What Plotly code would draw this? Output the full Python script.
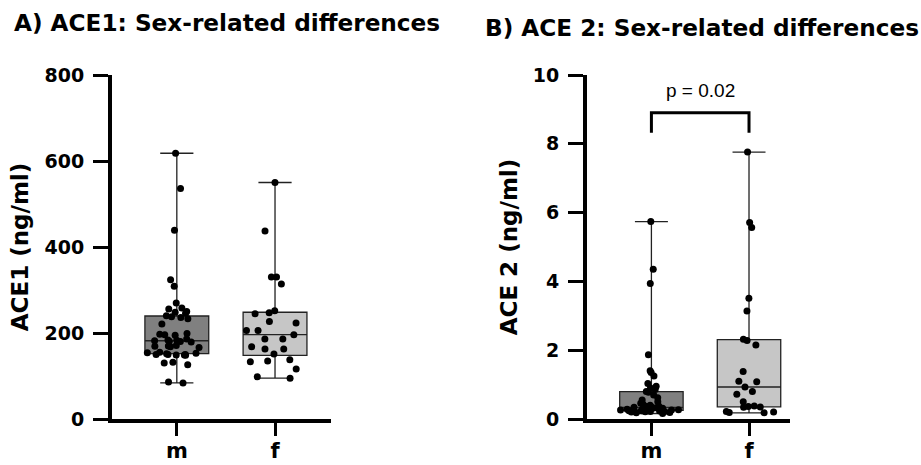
import plotly.graph_objects as go

# ---------------- data ----------------
categories = ["m", "f"]

ace1_m = [618, 536, 439, 324, 309, 270, 258, 256, 250, 248, 246, 233, 236, 238, 240,
          221, 199, 197, 196, 195, 186, 184, 183, 182, 181, 180, 179, 170, 169, 166,
          168, 171, 154, 150, 149, 153, 150, 148, 152, 150, 149, 155, 130, 126, 132,
          86, 84]
ace1_f = [550, 437, 330, 330, 314, 252, 247, 245, 227, 223, 206, 206, 196, 186, 186,
          163, 163, 168, 151, 135, 133, 138, 116, 95, 98]

ace2_m = [5.74, 4.35, 3.94, 1.87, 1.40, 1.35, 1.25, 1.03, 0.95, 0.90, 0.86, 0.80,
          0.78, 0.70, 0.62, 0.55, 0.50, 0.46, 0.42, 0.40, 0.38, 0.36, 0.35, 0.34,
          0.33, 0.32, 0.31, 0.30, 0.29, 0.28, 0.28, 0.27, 0.27, 0.26, 0.26, 0.25,
          0.25, 0.24, 0.24, 0.23, 0.22, 0.22, 0.21, 0.20, 0.19, 0.18, 0.16]
ace2_f = [7.76, 5.71, 5.57, 3.51, 3.14, 2.32, 2.28, 2.15, 1.38, 1.10, 1.08, 0.93,
          0.80, 0.72, 0.50, 0.38, 0.36, 0.35, 0.34, 0.22, 0.20, 0.19, 0.18]

ace1_ticks = [0, 200, 400, 600, 800]
ace2_ticks = [0, 2, 4, 6, 8, 10]

p_label = "p = 0.02"
bracket_low = 8.32
bracket_high = 8.9
p_label_y = 9.55

title_a = "A) ACE1: Sex-related differences"
title_b = "B) ACE 2: Sex-related differences"
ytitle_a = "ACE1 (ng/ml)"
ytitle_b = "ACE 2 (ng/ml)"

# ---------------- style ----------------
W, H = 921, 465
BOLD = dict(family="DejaVu Sans", color="black", weight="bold")
fills = {"m": "#808080", "f": "#c6c6c6"}

fig = go.Figure()


def add_group(vals, cat, xa, ya):
    n = len(vals)
    fig.add_trace(go.Box(
        x=[cat] * n, y=vals, boxpoints=False, fillcolor=fills[cat],
        line=dict(color="#222222", width=1.3), width=0.65, whiskerwidth=0.52,
        xaxis=xa, yaxis=ya, hoverinfo="skip"))
    fig.add_trace(go.Box(
        x=[cat] * n, y=vals, boxpoints="all", jitter=1.0, pointpos=0,
        fillcolor="rgba(0,0,0,0)", line=dict(color="rgba(0,0,0,0)", width=0),
        marker=dict(color="black", size=7), width=0.65,
        xaxis=xa, yaxis=ya, hoverinfo="skip"))


add_group(ace1_m, "m", "x", "y")
add_group(ace1_f, "f", "x", "y")
add_group(ace2_m, "m", "x2", "y2")
add_group(ace2_f, "f", "x2", "y2")

# significance bracket
fig.add_trace(go.Scatter(
    x=["m", "m", "f", "f"], y=[bracket_low, bracket_high, bracket_high, bracket_low],
    mode="lines", line=dict(color="black", width=3), xaxis="x2", yaxis="y2",
    hoverinfo="skip"))

ydom = [(H - 419) / H, (H - 75) / H]

xaxis_common = dict(
    type="category", categoryorder="array", categoryarray=categories,
    showline=True, linewidth=4, linecolor="black", ticks="outside", ticklen=13,
    tickwidth=3, tickcolor="black", tickfont=dict(size=21, **BOLD),
    ticklabelstandoff=-3,
    showgrid=False, zeroline=False, fixedrange=True, automargin=False)
yaxis_common = dict(
    showline=True, linewidth=4, linecolor="black", ticks="outside", ticklen=15,
    tickwidth=3, tickcolor="black", tickfont=dict(size=19, **BOLD),
    ticklabelstandoff=5,
    showgrid=False, zeroline=False, domain=ydom, automargin=False)

fig.update_layout(
    width=W, height=H, margin=dict(l=0, r=0, t=0, b=0, autoexpand=False),
    paper_bgcolor="white", plot_bgcolor="white", showlegend=False,
    boxmode="overlay",
    xaxis=dict(domain=[112 / W, 331 / W], anchor="y", range=[-0.66, 1.57], **xaxis_common),
    xaxis2=dict(domain=[587 / W, 790 / W], anchor="y2", range=[-0.66, 1.42], **xaxis_common),
    yaxis=dict(anchor="x", range=[0, 800], tickvals=ace1_ticks,
               title=dict(text=ytitle_a, font=dict(size=23, **BOLD), standoff=10),
               **yaxis_common),
    yaxis2=dict(anchor="x2", range=[0, 10], tickvals=ace2_ticks,
                title=dict(text=ytitle_b, font=dict(size=23, **BOLD), standoff=10),
                **yaxis_common),
    annotations=[
        dict(text=title_a, xref="paper", yref="paper", x=12 / W, y=(H - 22) / H,
             xanchor="left", yanchor="middle", showarrow=False,
             font=dict(size=23.2, **BOLD)),
        dict(text=title_b, xref="paper", yref="paper", x=483 / W, y=(H - 27) / H,
             xanchor="left", yanchor="middle", showarrow=False,
             font=dict(size=23.2, **BOLD)),
        dict(text=p_label, xref="x2", yref="y2", x=0.5, y=p_label_y,
             xanchor="center", yanchor="middle", showarrow=False,
             font=dict(size=19, family="Liberation Sans", color="black")),
    ],
)

fig.write_html("out.html", config={"displayModeBar": False},
               post_script="document.body.style.margin='0';document.body.style.overflow='hidden';")
